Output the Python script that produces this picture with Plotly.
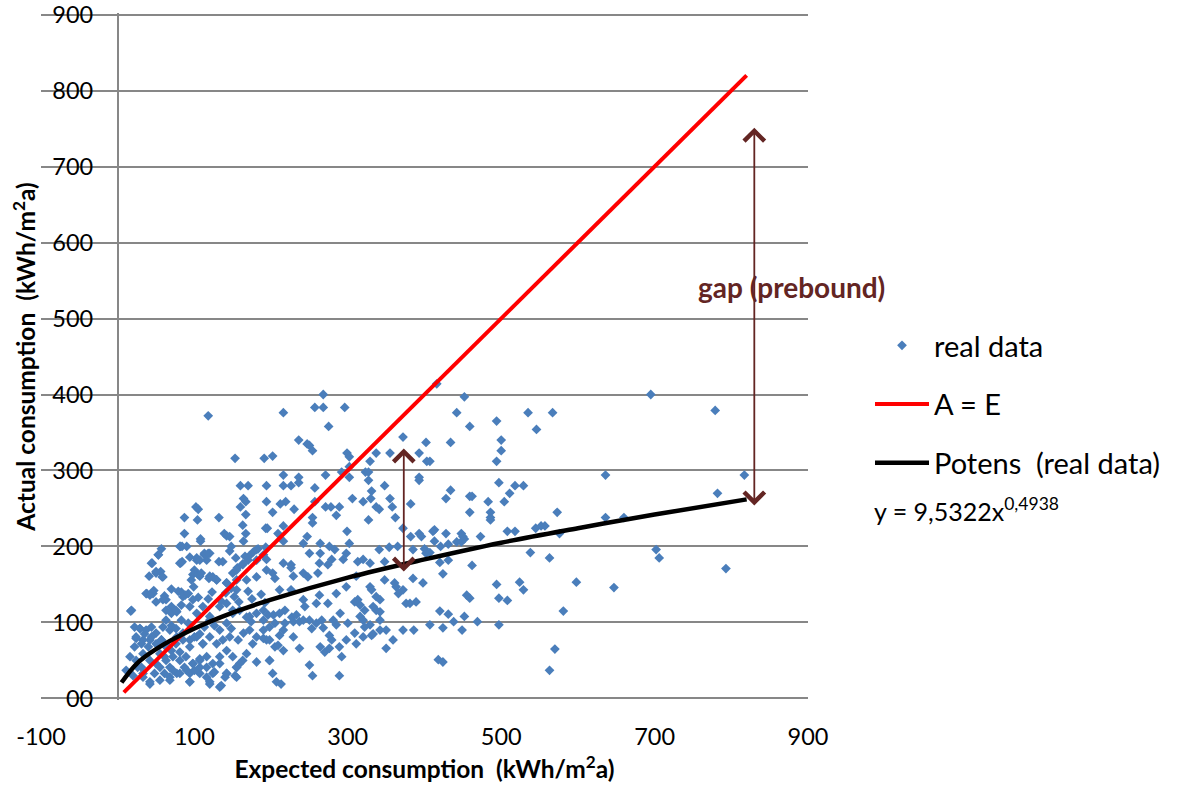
import plotly.graph_objects as go

# ---------------- data ----------------
expected = [
    # upper left (x<200, y>209)
    118,153,191,160,170,194,102,105,164,167,160,194,87,104,132,167,163,193,195,87,139,142,146,167,108,
    # dense cluster
    82,90,108,146,164,183,193,
    53,45,56,41,50,59,
    82,94,103,113,120,116,100,107,96,
    154,156,163,172,181,190,194,181,168,155,142,129,120,
    38,47,61,70,83,88,99,105,118,123,135,141,152,158,170,175,187,192,
    17,63,70,77,83,94,103,111,120,133,142,150,172,190,
    29,24,37,44,33,22,42,50,59,68,57,66,77,85,94,103,111,120,129,137,146,157,164,172,181,190,194,
    16,24,33,31,42,50,61,68,81,90,98,107,116,124,133,142,155,163,155,133,140,
    33,42,55,68,77,94,107,120,94,
    57,81,84,44,53,50,58,81,84,103,107,113,118,98,105,109,119,124,129,142,148,155,150,155,163,170,132,137,148,166,177,181,194,
    18,37,46,50,42,59,63,70,76,79,85,92,98,63,70,76,83,92,22,29,35,24,31,40,44,50,57,63,70,76,85,94,100,107,111,113,120,126,133,142,148,150,159,168,174,181,190,196,
    11,20,26,33,42,48,55,61,68,72,81,87,94,100,107,116,120,126,135,142,153,155,
    55,63,72,81,89,98,107,116,124,133,142,150,159,168,176,181,190,198,
    # middle upper (200-410, y>209)
    268,257,268,296,216,275,236,247,250,254,202,299,302,337,355,372,402,393,403,329,292,302,302,323,327,327,331,
    216,236,236,216,226,271,393,393,257,348,219,212,202,230,257,271,278,289,285,306,320,330,337,341,355,358,362,
    327,382,254,254,216,209,247,299,372,382,393,396,
    # middle lower (200-410, y<209)
    216,242,264,276,302,
    250,264,283,298,341,354,365,385,400,402,
    216,226,226,242,248,263,261,274,279,294,313,320,329,348,
    202,205,211,229,226,242,244,259,263,274,285,298,311,
    329,331,337,342,337,348,361,363,372,385,398,389,376,381,
    313,309,316,322,342,333,
    198,205,216,211,218,229,237,250,253,259,266,268,276,279,285,298,309,316,320,329,342,350,320,331,386,
    198,205,216,209,229,237,270,276,289,292,350,
    198,202,207,213,250,254,289,
    311,333,359,372,264,300,322,290,281,242,227,218,203,366,342,233,211,
    # right (406-641)
    416,452,442,535,567,459,494,546,434,500,500,494,407,636,497,518,529,434,428,511,504,459,462,483,459,486,573,486,486,
    413,411,428,448,450,473,508,518,545,552,557,413,421,431,442,448,452,636,576,407,420,431,424,462,538,563,
    494,524,529,455,459,497,508,598,581,420,431,407,424,438,449,452,469,497,570,418,424,563,
    # far right
    695,779,817,782,660,702,706,793,647,
]
actual = [
    372,316,316,280,280,280,252,249,263,259,252,259,238,235,238,242,228,224,224,217,217,214,213,217,210,
    200,200,207,194,207,197,199,
    189,178,167,161,165,160,
    178,186,182,189,191,182,169,161,156,
    185,172,177,188,182,189,169,160,156,156,152,156,161,
    138,142,135,144,140,136,147,133,131,140,128,139,134,127,141,131,137,126,
    115,130,121,114,123,121,112,121,108,121,125,116,108,103,
    92,81,90,94,77,68,77,86,94,90,77,68,81,86,77,81,72,81,72,77,81,77,86,90,81,90,77,
    55,50,59,41,50,46,55,41,50,37,46,52,41,33,46,33,41,50,28,15,28,
    28,19,24,28,33,22,33,19,33,
    197,200,200,178,189,167,160,178,180,185,182,191,191,163,163,165,158,160,156,152,145,143,165,169,176,182,180,180,200,187,193,196,183,
    116,138,138,127,136,130,116,112,116,141,134,138,130,103,96,92,103,99,94,92,85,79,72,68,81,72,77,68,63,72,77,68,81,85,72,94,103,96,90,99,92,112,116,107,101,112,116,110,
    37,30,41,33,22,33,41,33,24,37,33,41,22,37,41,28,22,35,17,33,30,41,
    59,50,55,61,55,46,50,55,46,55,63,55,46,59,72,48,79,50,
    400,383,383,383,376,358,340,335,333,326,319,323,318,323,323,344,337,323,312,312,298,305,291,298,298,287,273,
    294,291,284,280,280,294,291,287,277,280,259,256,245,249,259,252,252,252,241,263,259,263,252,249,263,252,238,
    235,256,238,231,227,217,213,220,224,213,217,213,
    207,204,204,200,204,
    191,191,196,191,196,199,200,196,197,191,
    178,176,172,165,160,178,165,176,183,183,180,183,178,180,
    165,158,143,161,143,130,121,125,136,125,138,147,161,
    147,143,134,130,116,156,152,147,143,158,152,127,125,125,
    130,127,123,116,114,121,
    94,99,90,83,99,101,101,103,92,99,103,93,83,77,97,77,86,108,103,97,90,90,81,83,90,
    77,68,63,70,81,66,61,66,68,55,66,
    50,33,22,19,44,30,30,
    72,85,77,90,68,99,94,112,103,103,107,116,110,138,103,110,112,
    414,397,376,376,376,358,365,354,337,340,326,312,312,294,284,280,280,274,263,270,259,266,266,259,245,245,245,238,235,
    222,220,217,217,213,213,220,220,224,227,227,207,200,203,206,206,210,238,217,192,179,182,164,175,192,185,
    150,153,143,136,132,132,129,153,115,115,111,97,93,101,90,108,101,97,65,51,48,37,
    400,379,294,270,238,196,185,171,146,
]

ae_x = [8, 820]
ae_y = [8, 820]

trend_x = [5, 25, 50, 100, 150, 200, 300, 400, 500, 600, 700, 820]
trend_y = [21, 46, 65, 92, 113, 130, 159, 183, 205, 224, 242, 262]

x_ticks = [-100, 100, 300, 500, 700, 900]
x_tick_text = ["-100", "100", "300", "500", "700", "900"]
y_ticks = [0, 100, 200, 300, 400, 500, 600, 700, 800, 900]
y_tick_text = ["00", "100", "200", "300", "400", "500", "600", "700", "800", "900"]

gap_small = dict(x=373, y_low=167, y_high=331)
gap_big = dict(x=830, y_low=254, y_high=753)

FONT = "Lato, 'Open Sans', sans-serif"
GRID = "#878787"
BROWN = "#632523"

fig = go.Figure()
fig.add_trace(go.Scatter(
    x=expected, y=actual, mode="markers", name="real data",
    marker=dict(symbol="diamond", size=7.5, color="#4A7EBB"),
    legendgroup="a",
))
fig.add_trace(go.Scatter(
    x=ae_x, y=ae_y, mode="lines", name="A = E",
    line=dict(color="#FF0000", width=4), legendgroup="b",
))
fig.add_trace(go.Scatter(
    x=trend_x, y=trend_y, mode="lines", name="Potens  (real data)",
    line=dict(color="#000000", width=4.5, shape="spline"), legendgroup="c",
))

for g in (gap_small, gap_big):
    fig.add_annotation(
        x=g["x"], y=g["y_low"], ax=g["x"], ay=g["y_high"],
        xref="x", yref="y", axref="x", ayref="y",
        text="", showarrow=True, arrowside="end+start",
        arrowhead=4, startarrowhead=4, arrowsize=2.2, startarrowsize=2.2,
        arrowwidth=1.8, arrowcolor=BROWN,
    )

fig.add_annotation(
    x=879, y=541, xref="x", yref="y", text="<b>gap (prebound)</b>",
    showarrow=False, font=dict(family=FONT, size=28, color=BROWN),
)
fig.add_annotation(
    x=(872 - 41) / 767, y=(698 - 507) / 687, xref="paper", yref="paper",
    xanchor="left", yanchor="middle",
    text="y = 9,5322x<sup>0,4938</sup>", showarrow=False,
    font=dict(family=FONT, size=25, color="#000000"),
)

fig.update_layout(
    width=1188, height=790,
    margin=dict(l=41, r=380, t=13, b=90, autoexpand=False),
    paper_bgcolor="white", plot_bgcolor="white",
    font=dict(family=FONT, size=23, color="#000000"),
    showlegend=True,
    legend=dict(
        x=(870 - 41) / 767, y=(698 - 318) / 687, xanchor="left", yanchor="top",
        font=dict(family=FONT, size=29, color="#000000"),
        itemwidth=54, tracegroupgap=18, bgcolor="rgba(0,0,0,0)",
    ),
    xaxis=dict(
        range=[-100, 900], tickvals=x_ticks, ticktext=x_tick_text, showgrid=False,
        zeroline=True, zerolinecolor=GRID, zerolinewidth=2, automargin=False,
        showline=False, ticks="", ticklabelstandoff=20,
        title=dict(text="<b>Expected consumption  (kWh/m<sup>2</sup>a)</b>",
                   font=dict(family=FONT, size=24.5), standoff=12),
        tickfont=dict(family=FONT, size=23.5),
    ),
    yaxis=dict(
        range=[-2, 902], tickvals=y_ticks, ticktext=y_tick_text,
        showgrid=True, gridcolor=GRID, gridwidth=2, zeroline=False,
        anchor="free", position=0.068, ticks="", ticklabeloverflow="allow",
        automargin=False,
        title=dict(text="<b>Actual consumption  (kWh/m<sup>2</sup>a)</b>",
                   font=dict(family=FONT, size=24.5), standoff=8),
        tickfont=dict(family=FONT, size=23.5),
    ),
)

fig.write_html("out.html")
